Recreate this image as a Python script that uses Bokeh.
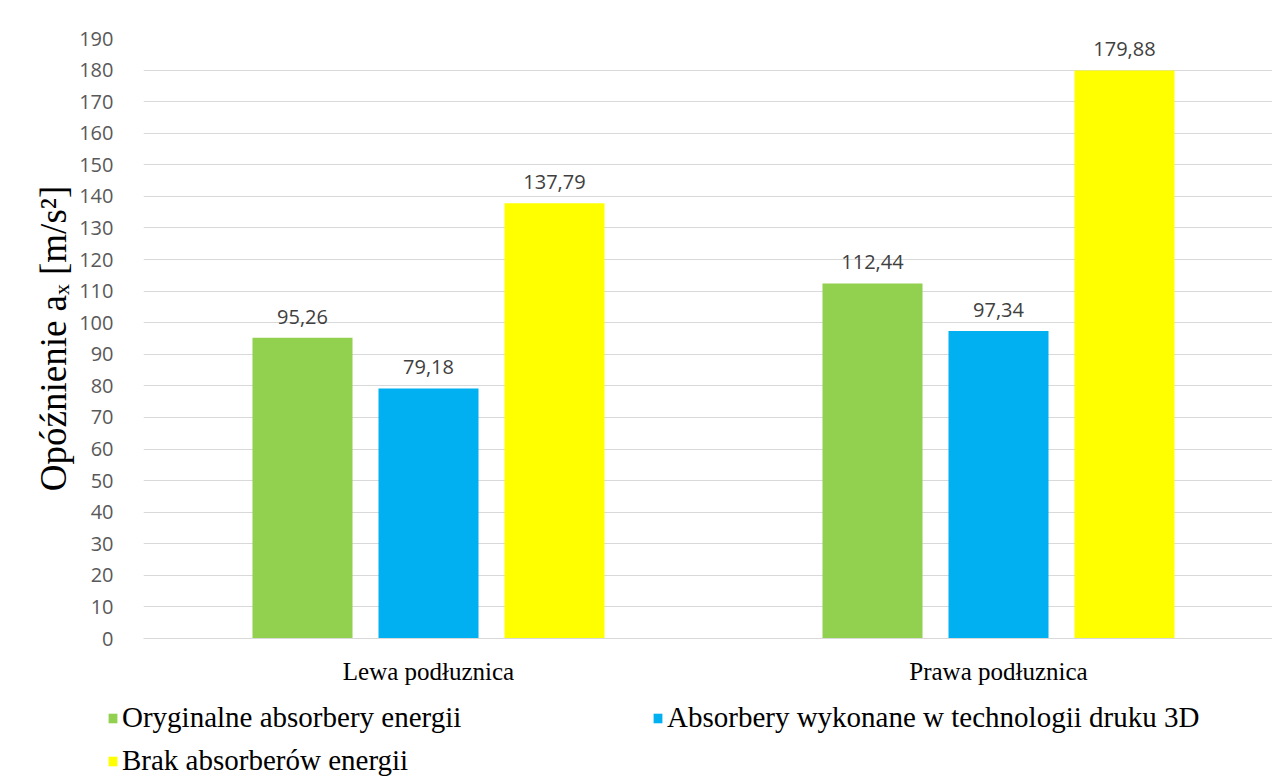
from bokeh.plotting import figure
from bokeh.models import ColumnDataSource, FixedTicker, Legend, LegendItem, Range1d, LabelSet
from bokeh.layouts import column
from bokeh.core.properties import value
from bokeh.embed import file_html
from bokeh.resources import INLINE

categories = ["Lewa podłuznica", "Prawa podłuznica"]
series_names = ["Oryginalne absorbery energii",
                "Absorbery wykonane w technologii druku 3D",
                "Brak absorberów energii"]
original = [95.26, 112.44]
printed3d = [79.18, 97.34]
none_abs = [137.79, 179.88]
y_ticks = list(range(0, 200, 10))
colors = ["#92d050", "#00b0f0", "#ffff00"]

p = figure(width=1272, height=688, output_backend="svg", toolbar_location=None,
           x_range=Range1d(0, 1129 / 570), y_range=Range1d(0, 190),
           min_border_left=143, min_border_right=0, min_border_top=38, min_border_bottom=50,
           frame_width=1129, frame_height=600)
p.outline_line_color = None
p.background_fill_color = "white"
p.border_fill_color = "white"

centers = [0.5 + i for i in range(len(categories))]
bw = 100 / 570
offs = [-126 / 570, 0.0, 126 / 570]
renderers = []
for k, vals in enumerate([original, printed3d, none_abs]):
    xs = [c + offs[k] for c in centers]
    src = ColumnDataSource(dict(x=xs, top=vals,
                                lab=[f"{v:.2f}".replace(".", ",") for v in vals]))
    r = p.vbar(x="x", top="top", bottom=0, width=bw, source=src,
               fill_color=colors[k], line_color=None)
    renderers.append(r)
    p.add_layout(LabelSet(x="x", y="top", text="lab", source=src, text_align="center",
                          text_baseline="bottom", y_offset=14, text_font=value("Open Sans"),
                          text_font_size="20px", text_color="#404040"))

# x axis
p.xaxis.ticker = FixedTicker(ticks=centers)
p.xaxis.major_label_overrides = {c: n for c, n in zip(centers, categories)}
p.xaxis.major_label_text_font = "Liberation Serif"
p.xaxis.major_label_text_font_size = "25px"
p.xaxis.major_label_text_color = "#000000"
p.xaxis.major_tick_line_color = None
p.xaxis.minor_tick_line_color = None
p.xaxis.axis_line_color = "#d9d9d9"
p.xaxis.major_label_standoff = 13
p.xgrid.grid_line_color = None

# y axis
p.yaxis.ticker = FixedTicker(ticks=y_ticks)
p.yaxis.major_label_text_font = "Open Sans"
p.yaxis.major_label_text_font_size = "20px"
p.yaxis.major_label_text_color = "#595959"
p.yaxis.major_tick_line_color = None
p.yaxis.minor_tick_line_color = None
p.yaxis.axis_line_color = None
p.yaxis.major_label_standoff = 24
p.yaxis.axis_label = "Opóźnienie aₓ [m/s²]"
p.yaxis.axis_label_text_font = "Liberation Serif"
p.yaxis.axis_label_text_font_style = "normal"
p.yaxis.axis_label_text_font_size = "37px"
p.yaxis.axis_label_text_color = "#000000"
p.yaxis.axis_label_standoff = 2
p.ygrid.grid_line_color = "#d9d9d9"
p.ygrid.grid_line_width = 1

# legend strip
q = figure(width=1272, height=89, output_backend="svg", toolbar_location=None,
           x_range=Range1d(0, 1), y_range=Range1d(0, 1),
           min_border_left=0, min_border_right=0, min_border_top=0, min_border_bottom=0,
           frame_width=1272, frame_height=89)
q.outline_line_color = None
q.xaxis.visible = False
q.yaxis.visible = False
q.grid.visible = False
dummies = [q.vbar(x=[0.5], top=[0], bottom=[0], width=0.0, fill_color=c, line_color=None)
           for c in colors]

def mk_legend(item, loc):
    return Legend(items=[item], location=loc, orientation="vertical",
                  label_text_font="Liberation Serif", label_text_font_size="29px",
                  label_text_color="#000000", glyph_width=11, glyph_height=12,
                  label_height=30, label_standoff=4, spacing=0, padding=0, margin=0,
                  border_line_alpha=0, background_fill_alpha=0)

q.add_layout(mk_legend(LegendItem(label=series_names[0], renderers=[dummies[0]]), (107, 43)))
q.add_layout(mk_legend(LegendItem(label=series_names[1], renderers=[dummies[1]]), (652, 43)))
q.add_layout(mk_legend(LegendItem(label=series_names[2], renderers=[dummies[2]]), (107, 0)))

open("out.html", "w").write(file_html(column(p, q, spacing=0), INLINE))
